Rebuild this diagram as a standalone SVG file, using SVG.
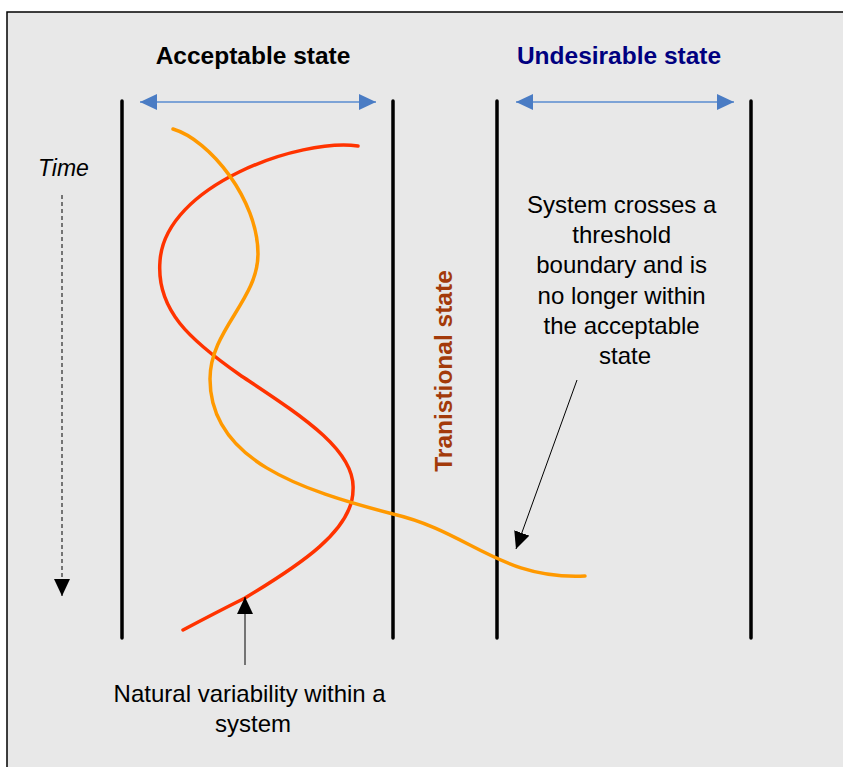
<svg xmlns="http://www.w3.org/2000/svg" width="843" height="767" viewBox="0 0 843 767">
<style>
.t{font-family:"Liberation Sans",Arial,sans-serif;fill:#000}
.b{font-weight:bold;font-size:24.5px}
.r{font-size:24px}
.bound{stroke:#000;stroke-width:3.5;stroke-linecap:round;fill:none}
.blue{stroke:#7da3d6;stroke-width:2;fill:none}
.red{stroke:#ff3300;stroke-width:3.5;fill:none;stroke-linecap:round}
.orange{stroke:#ff9900;stroke-width:3.5;fill:none;stroke-linecap:round}
.thin{stroke:#000;stroke-width:1;fill:none}
</style>
<defs>
<marker id="bh" markerUnits="userSpaceOnUse" markerWidth="18" markerHeight="18" refX="17" refY="8" orient="auto-start-reverse" viewBox="0 0 18 16">
<path d="M0,0 L17,8 L0,16 Z" fill="#4a7cc4"/>
</marker>
<marker id="kh" markerUnits="userSpaceOnUse" markerWidth="18" markerHeight="16" refX="17" refY="8" orient="auto" viewBox="0 0 18 16">
<path d="M0,0 L17,8 L0,16 Z" fill="#000"/>
</marker>
</defs>
<rect x="0" y="0" width="843" height="767" fill="#fff"/>
<rect x="7" y="12" width="880" height="800" fill="#e8e8e8" stroke="#000" stroke-width="1.5"/>

<g id="boundaries">
<line class="bound" x1="122" y1="101" x2="122" y2="638"/>
<line class="bound" x1="393" y1="101" x2="393" y2="638"/>
<line class="bound" x1="497" y1="101" x2="497" y2="638"/>
<line class="bound" x1="751" y1="101" x2="751" y2="638"/>
</g>

<g id="acceptable-state">
<text class="t b" x="253" y="64" text-anchor="middle">Acceptable state</text>
</g>
<g id="undesirable-state">
<text class="t b" x="619" y="64" text-anchor="middle" style="fill:#000080">Undesirable state</text>
</g>
<g id="transitional-state">
<text class="t" font-weight="bold" font-size="24.5" transform="translate(452,371) rotate(-90)" text-anchor="middle" style="fill:#a33a0a">Tranistional state</text>
</g>
<g id="time">
<text class="t" font-style="italic" font-size="23" x="38" y="176">Time</text>
</g>
<g id="threshold-note">
<text class="t r" text-anchor="middle">
<tspan x="625" y="213">System crosses a</tspan>
<tspan x="625" y="243">threshold</tspan>
<tspan x="625" y="273">boundary and is</tspan>
<tspan x="625" y="304">no longer within</tspan>
<tspan x="625" y="334">the acceptable</tspan>
<tspan x="625" y="364">state</tspan>
</text>
</g>
<g id="variability-note">
<text class="t r" text-anchor="middle">
<tspan x="253" y="702">Natural variability within a</tspan>
<tspan x="253" y="732">system</tspan>
</text>
</g>

<g id="curves">
<path class="red" d="M358,146 C300,138 165,185 160,261 C156,310 190,340 240,375 C300,415 356,450 353,490 C353,530 300,565 245,598 C225,608 200,621 183,630"/>
<path class="orange" d="M173,129 C210,140 258,200 258,254 C258,300 210,330 210,379 C210,460 300,490 393,514 C470,532 500,580 585,576"/>
</g>

<g id="connectors">
<line class="blue" x1="140" y1="102" x2="376" y2="102" marker-start="url(#bh)" marker-end="url(#bh)"/>
<line class="blue" x1="516" y1="102" x2="734" y2="102" marker-start="url(#bh)" marker-end="url(#bh)"/>
<line class="thin" x1="62" y1="195" x2="62" y2="596" stroke-dasharray="4,3" marker-end="url(#kh)"/>
<line class="thin" x1="245" y1="665" x2="245" y2="597" marker-end="url(#kh)"/>
<line class="thin" x1="577" y1="380" x2="516" y2="549" marker-end="url(#kh)"/>
</g>
</svg>
